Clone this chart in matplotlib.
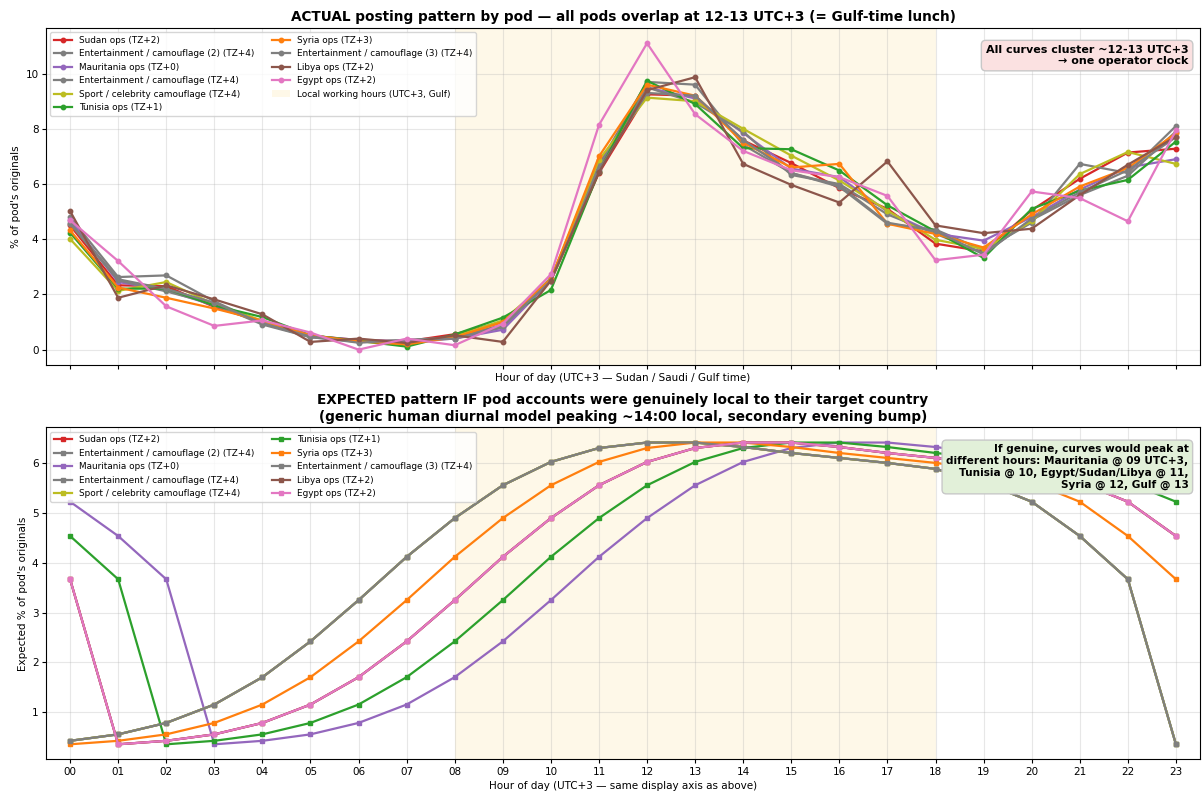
import numpy as np
import matplotlib
matplotlib.use("Agg")
import matplotlib.pyplot as plt

plt.rcParams["font.family"] = ["DejaVu Sans"]
plt.rcParams["font.size"] = 7.5
plt.rcParams["xtick.major.pad"] = 2.6
plt.rcParams["ytick.major.pad"] = 2.6
plt.rcParams["xtick.major.size"] = 2.8
plt.rcParams["ytick.major.size"] = 2.8
plt.rcParams["axes.labelpad"] = 3.0

hours = np.arange(24)
hour_labels = [f"{h:02d}" for h in hours]

pods = [
    "Sudan ops (TZ+2)",
    "Entertainment / camouflage (2) (TZ+4)",
    "Mauritania ops (TZ+0)",
    "Entertainment / camouflage (TZ+4)",
    "Sport / celebrity camouflage (TZ+4)",
    "Tunisia ops (TZ+1)",
    "Syria ops (TZ+3)",
    "Entertainment / camouflage (3) (TZ+4)",
    "Libya ops (TZ+2)",
    "Egypt ops (TZ+2)",
]
pod_tz = [2, 4, 0, 4, 4, 1, 3, 4, 2, 2]
pod_colors = ["tab:red", "tab:gray", "tab:purple", "tab:gray", "tab:olive",
              "tab:green", "tab:orange", "tab:gray", "tab:brown", "tab:pink"]

# Observed share of each pod's original posts per hour (UTC+3)
sudan = [4.50, 2.33, 2.30, 1.55, 1.00, 0.50, 0.35, 0.30, 0.56, 1.00, 2.50, 6.40,
         9.25, 9.20, 7.58, 6.76, 5.85, 5.10, 3.84, 3.56, 5.05, 6.19, 7.14, 7.28]
ent2 = [4.80, 2.63, 2.69, 1.75, 0.95, 0.45, 0.30, 0.30, 0.40, 0.80, 2.55, 6.70,
        9.70, 9.60, 7.42, 6.40, 5.90, 4.56, 4.35, 3.60, 4.60, 6.73, 6.40, 8.10]
mauritania = [4.70, 2.45, 2.15, 1.60, 1.00, 0.50, 0.35, 0.30, 0.40, 0.72, 2.50, 6.60,
              9.50, 9.10, 7.85, 6.56, 6.25, 5.00, 4.20, 3.95, 4.80, 5.80, 6.60, 6.90]
ent1 = [4.55, 2.51, 2.11, 1.65, 0.91, 0.45, 0.28, 0.35, 0.45, 0.90, 2.60, 6.60,
        9.50, 8.95, 7.90, 6.33, 6.00, 4.90, 4.20, 3.50, 4.70, 5.60, 6.30, 7.90]
sport = [4.01, 2.13, 2.45, 1.65, 1.05, 0.52, 0.30, 0.20, 0.48, 1.06, 2.55, 6.88,
         9.13, 9.00, 8.00, 7.03, 6.13, 5.04, 3.98, 3.65, 4.65, 6.36, 7.16, 6.73]
tunisia = [4.24, 2.21, 2.21, 1.60, 1.18, 0.52, 0.32, 0.11, 0.55, 1.16, 2.16, 6.45,
           9.74, 8.90, 7.30, 7.26, 6.49, 5.23, 4.28, 3.32, 5.10, 5.76, 6.15, 7.54]
syria = [4.32, 2.25, 1.88, 1.49, 1.05, 0.52, 0.30, 0.19, 0.45, 1.00, 2.55, 7.00,
         9.60, 9.20, 7.50, 6.60, 6.73, 4.56, 4.19, 3.70, 4.90, 5.91, 6.58, 7.84]
ent3 = [4.60, 2.55, 2.20, 1.70, 0.95, 0.48, 0.25, 0.35, 0.40, 0.85, 2.50, 6.50,
        9.30, 9.20, 7.60, 6.40, 5.95, 4.60, 4.30, 3.45, 4.75, 5.70, 6.50, 7.70]
libya = [5.02, 1.88, 2.33, 1.82, 1.28, 0.28, 0.40, 0.24, 0.52, 0.28, 2.50, 6.43,
         9.40, 9.87, 6.73, 5.97, 5.33, 6.82, 4.50, 4.22, 4.38, 5.60, 6.70, 7.72]
egypt = [4.69, 3.21, 1.57, 0.86, 1.06, 0.62, 0.00, 0.40, 0.16, 0.94, 2.73, 8.14,
         11.10, 8.53, 7.20, 6.50, 6.25, 5.57, 3.24, 3.44, 5.73, 5.49, 4.65, 7.94]
actual = [sudan, ent2, mauritania, ent1, sport, tunisia, syria, ent3, libya, egypt]

# Generic human diurnal profile, % of daily posts by LOCAL hour 00..23
diurnal_local = [0.35, 0.42, 0.55, 0.78, 1.15, 1.70, 2.42, 3.25, 4.12, 4.90, 5.56, 6.03,
                 6.31, 6.42, 6.42, 6.33, 6.21, 6.11, 6.01, 5.89, 5.62, 5.23, 4.54, 3.67]

work_start, work_end = 8, 18

fig = plt.figure(figsize=(12.02, 7.96), dpi=100)
ax1 = fig.add_axes([0.0383, 0.5415, 0.9600, 0.4234])
ax2 = fig.add_axes([0.0383, 0.0460, 0.9600, 0.4170], sharex=ax1)

span_color = "#fef8e8"

# --- observed curves ---
for name, color, vals in zip(pods, pod_colors, actual):
    ax1.plot(hours, vals, marker="o", ms=3.2, lw=1.6, color=color, label=name)
span1 = ax1.axvspan(work_start, work_end, color=span_color, lw=0, zorder=0.5,
                    label="Local working hours (UTC+3, Gulf)")
ax1.grid(True, color="#b0b0b0", alpha=0.3, lw=0.8)

ax1.set_title("ACTUAL posting pattern by pod \u2014 all pods overlap at 12-13 UTC+3 (= Gulf-time lunch)",
              fontsize=9.8, fontweight="bold", pad=5)
ax1.set_ylabel("% of pod's originals")
ax1.set_xlabel("Hour of day (UTC+3 \u2014 Sudan / Saudi / Gulf time)")
handles = ax1.get_lines() + [span1]
ax1.legend(handles=handles, labels=[h.get_label() for h in handles],
           loc="upper left", ncol=2, fontsize=6.4)
ax1.text(0.99, 0.95, "All curves cluster ~12-13 UTC+3\n\u2192 one operator clock",
         transform=ax1.transAxes, ha="right", va="top", fontsize=8, fontweight="bold",
         bbox=dict(boxstyle="round,pad=0.4", facecolor="#fbe1e1", edgecolor="#c8c8c8"))
ax1.tick_params(labelbottom=False)

# --- modelled curves, local diurnal profile placed on the UTC+3 axis ---
ax2.axvspan(work_start, work_end, color=span_color, lw=0, zorder=0.5)
ax2.grid(True, color="#b0b0b0", alpha=0.3, lw=0.8)
base = np.array(diurnal_local)
for name, color, tz in zip(pods, pod_colors, pod_tz):
    local_hour = (hours - 3 + tz) % 24
    ax2.plot(hours, base[local_hour], marker="s", ms=3.2, lw=1.6, color=color, label=name)

ax2.set_title("EXPECTED pattern IF pod accounts were genuinely local to their target country\n"
              "(generic human diurnal model peaking ~14:00 local, secondary evening bump)",
              fontsize=9.8, fontweight="bold", pad=5)
ax2.set_ylabel("Expected % of pod's originals")
ax2.set_xlabel("Hour of day (UTC+3 \u2014 same display axis as above)")
ax2.legend(loc="upper left", ncol=2, fontsize=6.4)
ax2.text(0.99, 0.95, "If genuine, curves would peak at\ndifferent hours: Mauritania @ 09 UTC+3,\n"
         "Tunisia @ 10, Egypt/Sudan/Libya @ 11,\nSyria @ 12, Gulf @ 13",
         transform=ax2.transAxes, ha="right", va="top", fontsize=7.6, fontweight="bold",
         bbox=dict(boxstyle="round,pad=0.4", facecolor="#e2f0d9", edgecolor="#c8c8c8"))

ax2.set_xticks(hours)
ax2.set_xticklabels(hour_labels)
ax2.set_xlim(-0.5, 23.5)

fig.savefig("out.png", dpi=100)
